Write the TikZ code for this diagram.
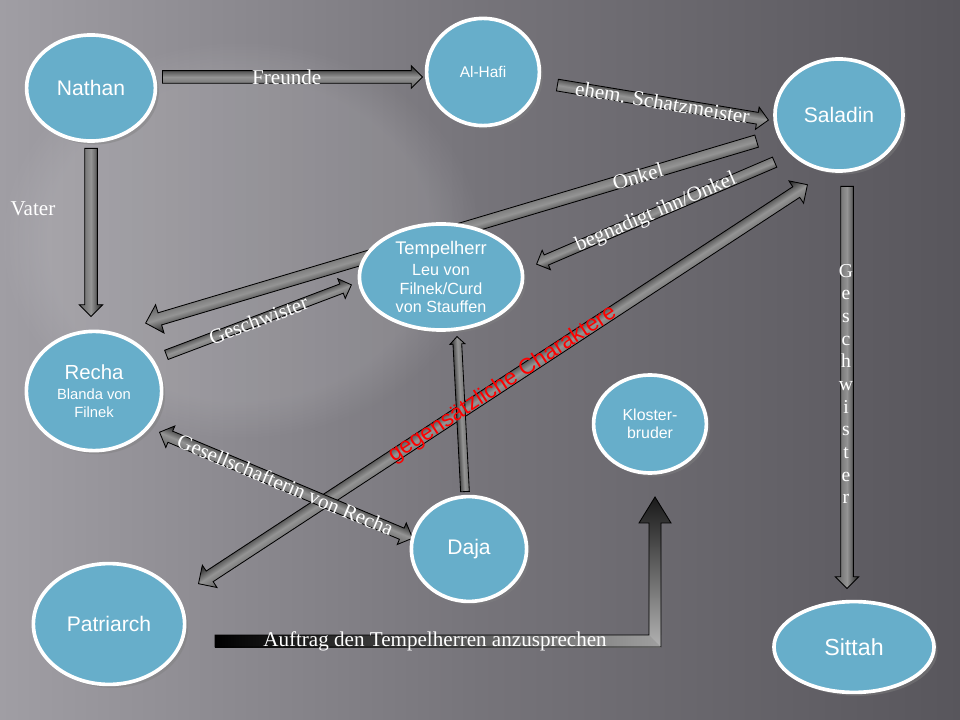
\documentclass[tikz,border=0pt]{standalone}
\usepackage{fontspec}
\setmainfont{Liberation Sans}
\newfontfamily\labelfont{Liberation Serif}
\usetikzlibrary{shapes.geometric,shapes.arrows,shadows,calc,fadings}

\definecolor{personblue}{RGB}{103,174,202}
\definecolor{bglight}{RGB}{160,158,164}
\definecolor{bgmid}{RGB}{118,116,122}
\definecolor{bgdark}{RGB}{88,86,92}

\tikzstyle{person} = [ellipse, draw=white, line width=2.6pt, fill=personblue, text=white, align=center, inner sep=0pt, drop shadow={opacity=0.45, shadow xshift=2.5pt, shadow yshift=-2.5pt}]
\tikzstyle{arrowbody} = [single arrow, draw=black, line width=0.6pt, top color=black!88, bottom color=black!62, middle color=black!42, minimum width=0pt, inner sep=0pt, inner ysep=4.2pt, single arrow head extend=3.8pt, anchor=tail]
\tikzstyle{twoarrowbody} = [double arrow, draw=black, line width=0.6pt, top color=black!88, bottom color=black!62, middle color=black!42, minimum width=0pt, inner sep=0pt, inner ysep=4.2pt, double arrow head extend=4.5pt, anchor=tip 2]
\tikzstyle{rellabel} = [text=white, font=\labelfont\fontsize{15}{18}\selectfont, inner sep=1pt, midway, sloped]
\tikzstyle{plainlabel} = [text=white, font=\labelfont\fontsize{15}{18}\selectfont, inner sep=1pt]

\newcommand{\relation}[6][]{%
  \path let \p1=($(#4)-(#3)$), \n1={veclen(\x1,\y1)}, \n2={atan2(\y1,\x1)} in \pgfextra{\xdef\rellen{\n1}\xdef\relangle{\n2}};
  \begin{scope}[transform canvas={shift={(#3)}, rotate=\relangle}]
    \node[#2, minimum height=\rellen, #1] (#3-body) at (0,0) {};
  \end{scope}
  \path (#3) -- (#4) node[rellabel, #5] (#3-label) {#6};}

\begin{document}
\begin{tikzpicture}[x=0.025cm, y=-0.025cm]
\useasboundingbox (0,0) rectangle (960,720);
\shade[left color=bglight, right color=bgdark, middle color=bgmid] (0,0) rectangle (960,720);
\fill[white, opacity=0.1, path fading=circle with fuzzy edge 20 percent] (240,240) ellipse [x radius=240, y radius=200];

\coordinate (freunde) at (162,77);   \coordinate (alhafiend) at (422,77);
\coordinate (schatz) at (557,85);    \coordinate (saladinend) at (768,120);
\coordinate (onkel) at (757,141);    \coordinate (rechaend) at (146,323);
\coordinate (begnadigt) at (775,162); \coordinate (tempelend) at (537,264);
\coordinate (gegensatz) at (198,584); \coordinate (saladintip) at (807,185);
\coordinate (vater) at (91,148);     \coordinate (rechatop) at (91,316);
\coordinate (geschwister) at (166,355); \coordinate (tempelleft) at (351,285);
\coordinate (gesellschaft) at (159,432); \coordinate (dajaend) at (412,538);
\coordinate (dajatempel) at (465,492); \coordinate (tempelbottom) at (457,337);
\coordinate (saladinsittah) at (847,186); \coordinate (sittahtop) at (847,588);
\coordinate (auftrag) at (215,641);  \coordinate (klostertip) at (655,497);

\relation[single arrow head extend=3.5pt]{arrowbody}{freunde}{alhafiend}{pos=0.48}{Freunde}
\relation[inner ysep=3.9pt]{arrowbody}{schatz}{saladinend}{}{ehem. Schatzmeister}
\relation[single arrow head extend=6pt]{arrowbody}{onkel}{rechaend}{pos=0.195}{Onkel}
\relation[inner ysep=3.6pt, single arrow head extend=3.6pt]{arrowbody}{begnadigt}{tempelend}{}{begnadigt ihn/Onkel}
\relation[double arrow head extend=5pt]{twoarrowbody}{gegensatz}{saladintip}{}{}
\relation{arrowbody}{vater}{rechatop}{}{}
\relation[inner ysep=3.2pt, single arrow head extend=4pt]{arrowbody}{geschwister}{tempelleft}{}{Geschwister}
\relation[inner ysep=4pt, double arrow head extend=4pt]{twoarrowbody}{gesellschaft}{dajaend}{}{Gesellschafterin von Recha}
\relation[inner ysep=2.8pt, single arrow head extend=2.2pt]{arrowbody}{dajatempel}{tempelbottom}{}{}
\relation{arrowbody}{saladinsittah}{sittahtop}{}{}

\shade[left color=black, right color=gray!75] ($(auftrag)+(0,-6)$) rectangle ($(klostertip|-auftrag)+(6,6)$);
\shade[top color=black!90, bottom color=gray!60] ($(klostertip)+(-6,26)$) -- ($(klostertip)+(-16,26)$) -- (klostertip) -- ($(klostertip)+(16,26)$) -- ($(klostertip)+(6,26)$) -- ($(klostertip|-auftrag)+(6,6)$) -- ($(klostertip|-auftrag)+(-6,-6)$) -- cycle;
\draw[line width=0.6pt] ($(auftrag)+(0,-6)$) -- ($(klostertip|-auftrag)+(-6,-6)$) -- ($(klostertip)+(-6,26)$) -- ($(klostertip)+(-16,26)$) -- (klostertip) -- ($(klostertip)+(16,26)$) -- ($(klostertip)+(6,26)$) -- ($(klostertip|-auftrag)+(6,6)$) -- ($(auftrag)+(0,6)$) -- cycle;

\node[person, minimum width=3.22cm, minimum height=2.65cm, font=\fontsize{15}{18}\selectfont] (nathan) at (91,88) {Nathan};
\node[person, minimum width=2.82cm, minimum height=2.68cm, font=\fontsize{11}{13}\selectfont] (alhafi) at (483,72) {Al-Hafi};
\node[person, minimum width=3.2cm, minimum height=2.8cm, font=\fontsize{15}{18}\selectfont] (saladin) at (839,115) {Saladin};
\node[person, minimum width=4.08cm, minimum height=2.65cm, font=\fontsize{11.5}{13}\selectfont] (tempelherr) at (441,277) {{\fontsize{13}{15}\selectfont Tempelherr}\\[2pt] Leu von\\ Filnek/Curd\\ von Stauffen};
\node[person, minimum width=3.38cm, minimum height=2.98cm, font=\fontsize{10.5}{12.3}\selectfont] (recha) at (94,391) {{\fontsize{14.5}{17}\selectfont Recha}\\[2pt] Blanda von\\ Filnek};
\node[person, minimum width=2.82cm, minimum height=2.45cm, font=\fontsize{11.3}{12.8}\selectfont] (kloster) at (650,424) {Kloster-\\ bruder};
\node[person, minimum width=2.88cm, minimum height=2.62cm, font=\fontsize{15}{18}\selectfont] (daja) at (469,549) {Daja};
\node[person, minimum width=3.78cm, minimum height=3.02cm, font=\fontsize{15}{18}\selectfont] (patriarch) at (109,624) {Patriarch};
\node[person, minimum width=4cm, minimum height=2.27cm, font=\fontsize{16.5}{19}\selectfont] (sittah) at (854,647) {Sittah};

\node[plainlabel] (vaterlabel) at (33,209) {Vater};
\node[plainlabel, align=center, font=\labelfont\fontsize{14}{16.1}\selectfont] (sittahlabel) at (846,384) {G\\e\\s\\c\\h\\w\\i\\s\\t\\e\\r};
\node[plainlabel] (auftraglabel) at ($(auftrag)!0.5!(klostertip|-auftrag)$) {Auftrag den Tempelherren anzusprechen};
\path (gegensatz) -- (saladintip) node[midway, sloped, text=red, font=\fontsize{16}{19}\selectfont] (gegensatzlabel) {gegensätzliche Charaktere};
\end{tikzpicture}
\end{document}
